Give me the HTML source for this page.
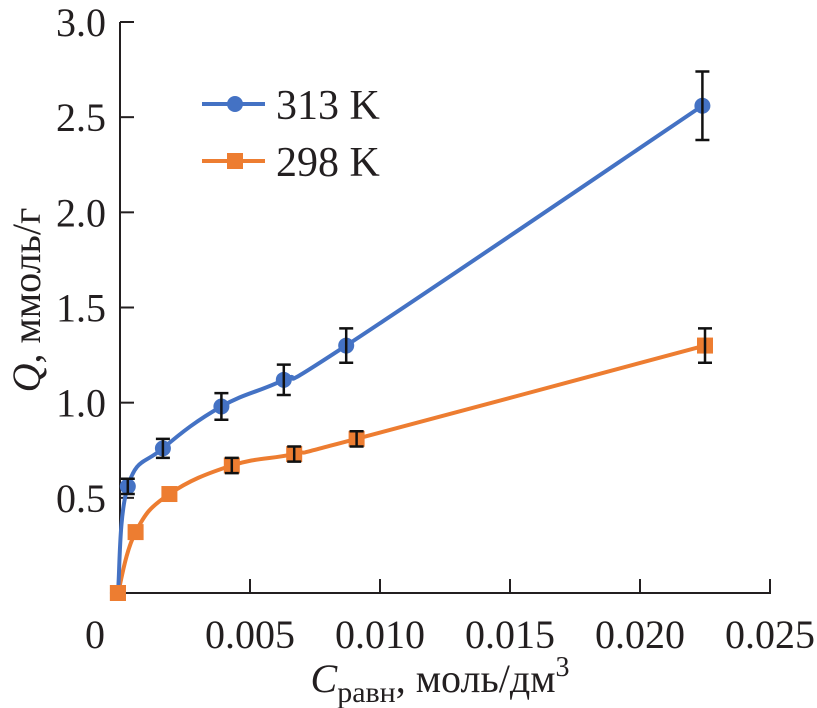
<!DOCTYPE html>
<html><head><meta charset="utf-8"><style>
html,body{margin:0;padding:0;background:#fff;}
svg{display:block;font-family:"Liberation Serif","DejaVu Serif",serif;}
</style></head><body>
<svg id="chart" width="817" height="708" viewBox="0 0 817 708">
<g id="axes"></g>
<g id="plot"></g>
<g id="legend"></g>
<text x="40" y="300" transform="rotate(-90 40 300)" text-anchor="middle" font-size="40" fill="#231f20"><tspan font-style="italic">Q</tspan>, ммоль/г</text>
<text x="440" y="692" text-anchor="middle" font-size="40" fill="#231f20"><tspan font-style="italic">C</tspan><tspan font-size="30" dy="10">равн</tspan><tspan dy="-10">, моль/дм</tspan><tspan font-size="28" dy="-16">3</tspan></text>
</svg>
<script>
const xTicks=[0,0.005,0.010,0.015,0.020,0.025];
const xTickLabels=["0","0.005","0.010","0.015","0.020","0.025"];
const yTicks=[0.5,1.0,1.5,2.0,2.5,3.0];
const yTickLabels=["0.5","1.0","1.5","2.0","2.5","3.0"];
const c313=[-0.00008,0.0003,0.00165,0.0039,0.0063,0.0087,0.0224];
const q313=[0,0.56,0.76,0.98,1.12,1.30,2.56];
const e313=[0,0.04,0.05,0.07,0.08,0.09,0.18];
const c298=[-0.00008,0.0006,0.0019,0.0043,0.0067,0.0091,0.0225];
const q298=[0,0.32,0.52,0.67,0.73,0.81,1.30];
const e298=[0,0,0,0.04,0.04,0.04,0.09];
const NS="http://www.w3.org/2000/svg";
const X0=120,X1=770,Y0=593,Y1=22;
function sx(v){return X0+(v/0.025)*(X1-X0);}
function sy(v){return Y0-(v/3)*(Y0-Y1);}
function mk(tag,attrs,parent){const e=document.createElementNS(NS,tag);for(const k in attrs)e.setAttribute(k,attrs[k]);parent.appendChild(e);return e;}
const axes=document.getElementById('axes'),plot=document.getElementById('plot'),leg=document.getElementById('legend');
const col="#231f20";
let a=mk('line',{x1:X0,y1:Y0,x2:X1+1,y2:Y0,stroke:col,'stroke-width':2},axes);


a=mk('line',{x1:X0,y1:Y0+1,x2:X0,y2:Y1,stroke:col,'stroke-width':2},axes);


xTicks.forEach((v,i)=>{
 if(i>0){const t=mk('line',{x1:sx(v),y1:Y0,x2:sx(v),y2:Y0-14,stroke:col,'stroke-width':2},axes);
 
 }
 const l=mk('text',{x:i==0?sx(v)-25:sx(v),y:Y0+55,'text-anchor':'middle','font-size':40,fill:col},axes);
 l.textContent=xTickLabels[i];
 
 
});
yTicks.forEach((v,i)=>{
 const t=mk('line',{x1:X0,y1:sy(v),x2:X0+14,y2:sy(v),stroke:col,'stroke-width':2},axes);
 
 
 const l=mk('text',{x:X0-14,y:sy(v)+14,'text-anchor':'end','font-size':40,fill:col},axes);
 l.textContent=yTickLabels[i];
 
 
});
function smoothPath(xs,ys){
 const p=xs.map((x,i)=>[sx(x),sy(ys[i])]);
 let d="M"+p[0][0]+","+p[0][1];
 for(let i=0;i<p.length-1;i++){
  const p0=p[Math.max(0,i-1)],p1=p[i],p2=p[i+1],p3=p[Math.min(p.length-1,i+2)];
  const t=0.2;
  d+=" C"+(p1[0]+(p2[0]-p0[0])*t)+","+(p1[1]+(p2[1]-p0[1])*t)+" "+(p2[0]-(p3[0]-p1[0])*t)+","+(p2[1]-(p3[1]-p1[1])*t)+" "+p2[0]+","+p2[1];
 }
 return d;
}
function series(xs,ys,es,color,shape,name){
 const g=mk('g',{},plot);
 
 
 const path=mk('path',{d:smoothPath(xs,ys),fill:'none',stroke:color,'stroke-width':4},g);
 
 
 xs.forEach((x,i)=>{
  const cx=sx(x),cy=sy(ys[i]);
  let m;
  if(shape=='circle') m=mk('circle',{cx:cx,cy:cy,r:8,fill:color},g);
  else m=mk('rect',{x:cx-8,y:cy-8,width:16,height:16,fill:color},g);
  
  
  if(es[i]>0){
   const eb=mk('path',{d:`M${cx},${sy(ys[i]+es[i])}V${sy(ys[i]-es[i])}M${cx-7},${sy(ys[i]+es[i])}H${cx+7}M${cx-7},${sy(ys[i]-es[i])}H${cx+7}`,stroke:'#111',fill:'none','stroke-width':2.5},g);
   
   
  }
 });
}
series(c298,q298,e298,'#ed7d31','square','298k');
series(c313,q313,e313,'#4472c4','circle','313k');
const om=mk('rect',{x:sx(c298[0])-8,y:sy(q298[0])-8,width:16,height:16,fill:'#ed7d31'},plot);


function legendEntry(y,color,shape,label,name){
 const g=mk('g',{},leg);
 
 
 mk('line',{x1:202,y1:y,x2:265,y2:y,stroke:color,'stroke-width':4},g);
 if(shape=='circle') mk('circle',{cx:235,cy:y,r:8,fill:color},g);
 else mk('rect',{x:227,y:y-8,width:16,height:16,fill:color},g);
 const t=mk('text',{x:276,y:y+15,'font-size':42,fill:col},g);
 t.textContent=label;
}
legendEntry(104,'#4472c4','circle','313 K','313k');
legendEntry(161,'#ed7d31','square','298 K','298k');
</script>
</body></html>
